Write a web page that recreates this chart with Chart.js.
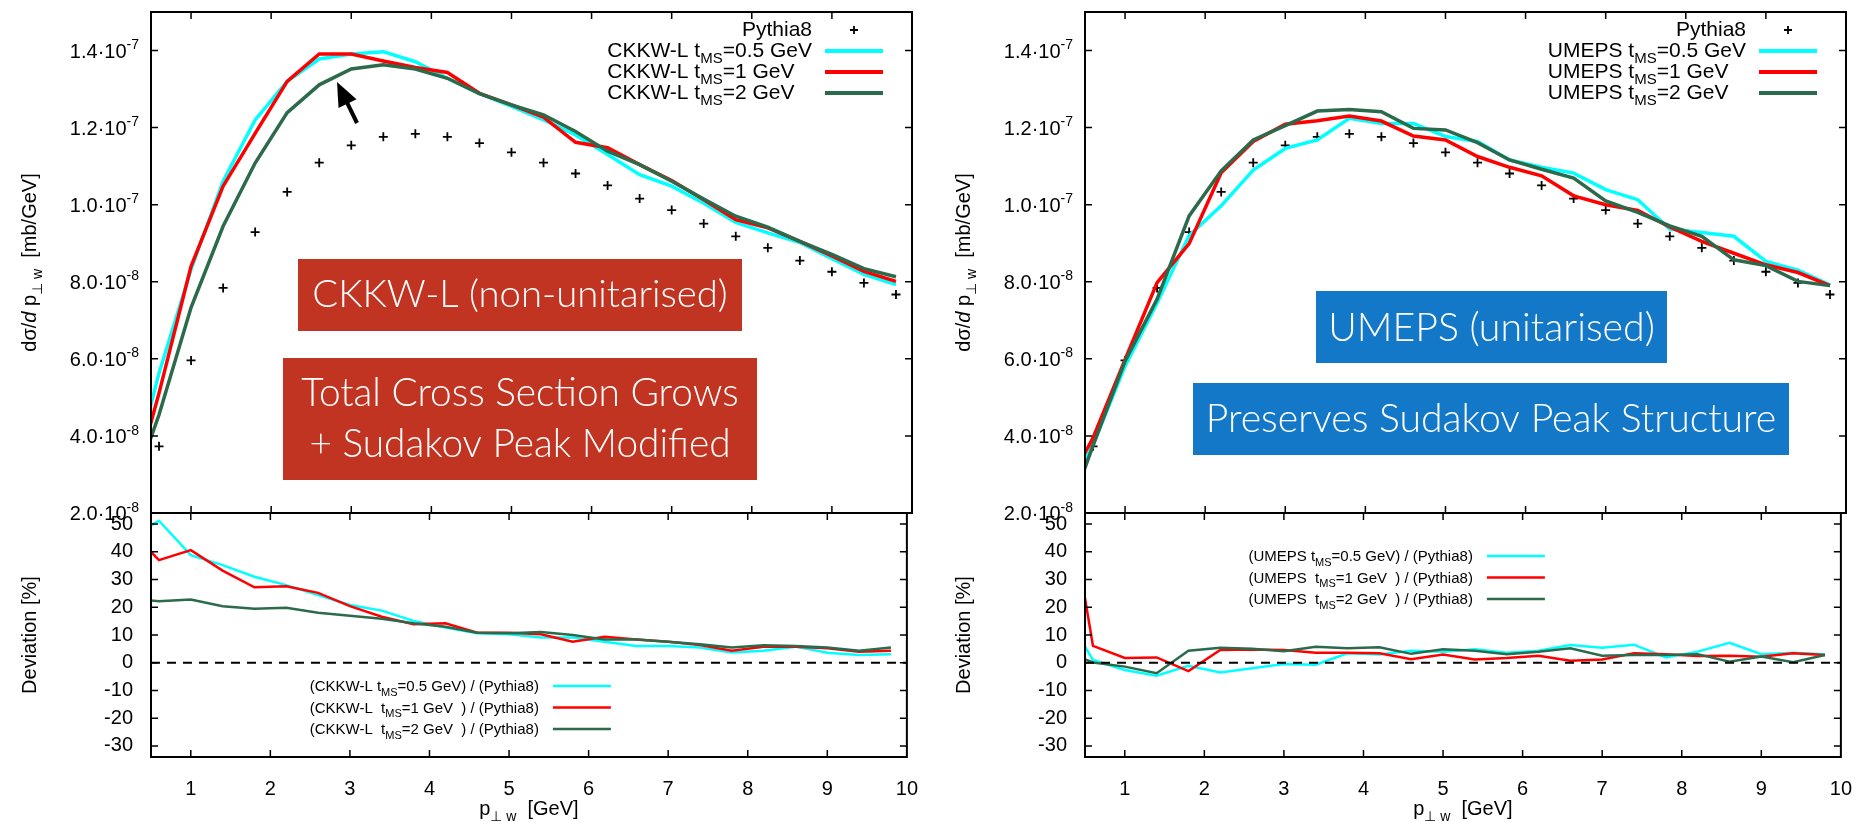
<!DOCTYPE html>
<html>
<head>
<meta charset="utf-8">
<script src="https://cdn.jsdelivr.net/npm/chart.js@4/dist/chart.umd.min.js"></script>
<style>
  body { margin: 0; background: #fff; overflow: hidden; }
  .wrap { position: relative; width: 1855px; height: 822px; overflow: hidden; }
  canvas { position: absolute; }
</style>
</head>
<body>
<div class="wrap">
  <canvas id="ckkwDev" width="930" height="332" style="left:0;top:490px"></canvas>
  <canvas id="ckkwTop" width="930" height="540" style="left:0;top:0"></canvas>
  <canvas id="umepsDev" width="930" height="332" style="left:934px;top:490px"></canvas>
  <canvas id="umepsTop" width="930" height="540" style="left:934px;top:0"></canvas>
</div>
<script>
const FONT = '"Liberation Sans", Arial, Helvetica, sans-serif';
const BOX_FONT = 'Lato, "Open Sans", sans-serif';

// bin centres of p_perp,w [GeV]
const xBins = [0.2, 0.6, 1.0, 1.4, 1.8, 2.2, 2.6, 3.0, 3.4, 3.8, 4.2, 4.6, 5.0,
               5.4, 5.8, 6.2, 6.6, 7.0, 7.4, 7.8, 8.2, 8.6, 9.0, 9.4, 9.8];
const xTicks = [1, 2, 3, 4, 5, 6, 7, 8, 9, 10];
const crossTicks = [2, 4, 6, 8, 10, 12, 14];          // units of 1e-8 mb/GeV
const devTicks = [-30, -20, -10, 0, 10, 20, 30, 40, 50];

// dsigma/dp_perp,w in units of 1e-8 mb/GeV
const pythia8 = [null, 3.73, 5.96, 7.84, 9.29, 10.33, 11.09, 11.54, 11.76, 11.84, 11.76, 11.60, 11.36,
                 11.09, 10.81, 10.50, 10.16, 9.86, 9.51, 9.18, 8.88, 8.55, 8.26, 7.97, 7.67];
const ckkwl05 = [2.39, 5.63, 8.32, 10.61, 12.20, 13.20, 13.78, 13.91, 13.97, 13.71, 13.28, 12.89, 12.55,
                 12.20, 11.81, 11.30, 10.78, 10.48, 10.04, 9.54, 9.27, 9.02, 8.60, 8.19, 7.93];
const ckkwl1 = [2.07, 5.11, 8.40, 10.48, 11.85, 13.20, 13.91, 13.91, 13.73, 13.56, 13.43, 12.89, 12.59,
                12.27, 11.62, 11.48, 11.04, 10.63, 10.13, 9.61, 9.40, 9.05, 8.67, 8.27, 8.01];
const ckkwl2 = [2.19, 4.55, 7.33, 9.44, 11.08, 12.39, 13.11, 13.52, 13.63, 13.52, 13.28, 12.88, 12.59,
                12.33, 11.90, 11.39, 11.04, 10.61, 10.15, 9.70, 9.42, 9.05, 8.71, 8.34, 8.13];
const umeps05 = [2.09, 3.77, 5.81, 7.45, 9.20, 9.97, 10.90, 11.46, 11.68, 12.24, 12.11, 12.11, 11.77,
                 11.64, 11.16, 10.97, 10.82, 10.39, 10.13, 9.37, 9.28, 9.18, 8.53, 8.30, 7.92];
const umeps1 = [2.39, 3.95, 5.98, 7.98, 8.99, 10.83, 11.64, 12.09, 12.18, 12.30, 12.17, 11.78, 11.68,
                11.25, 10.97, 10.75, 10.23, 10.00, 9.85, 9.42, 9.05, 8.74, 8.44, 8.24, 7.90];
const umeps2 = [1.43, 3.75, 5.94, 7.55, 9.71, 10.88, 11.68, 12.05, 12.43, 12.47, 12.41, 11.98, 11.94,
                11.61, 11.16, 10.92, 10.69, 10.10, 9.80, 9.45, 9.18, 8.57, 8.42, 8.01, 7.90];

// deviation from Pythia8 [%]
const devCkkwl05 = [44.8, 51.2, 38.8, 35.2, 31.0, 28.0, 24.4, 20.8, 18.8, 15.1, 12.7, 10.6, 10.3,
                    9.1, 9.1, 7.6, 6.0, 6.0, 5.5, 3.7, 4.3, 5.8, 3.6, 2.8, 3.1];
const devCkkwl1 = [49.0, 37.0, 40.6, 33.2, 27.2, 27.6, 25.2, 20.4, 16.6, 13.9, 14.2, 10.8, 10.8,
                   10.3, 7.6, 9.4, 8.4, 7.6, 6.4, 4.3, 5.8, 5.8, 5.2, 4.0, 4.3];
const devCkkwl2 = [23.0, 22.2, 22.8, 20.4, 19.5, 19.8, 18.0, 16.9, 15.9, 14.2, 13.0, 10.8, 10.6,
                   11.1, 10.0, 8.4, 8.4, 7.6, 6.7, 5.5, 6.3, 6.0, 5.5, 4.3, 5.5];
const devUmeps05 = [20.2, 1.0, -2.6, -4.7, -1.1, -3.5, -2.0, -0.5, -0.7, 3.4, 3.0, 4.3, 4.0,
                    4.9, 3.6, 4.3, 6.4, 5.4, 6.5, 1.9, 4.0, 7.2, 3.1, 3.6, 3.1];
const devUmeps1 = [74.5, 6.1, 1.7, 1.9, -3.0, 4.6, 4.8, 4.6, 3.6, 3.6, 3.4, 1.3, 3.0,
                   1.2, 1.7, 2.5, 0.7, 1.2, 3.4, 3.1, 2.4, 2.5, 2.2, 3.4, 2.8];
const devUmeps2 = [4.5, 0.1, -1.4, -3.8, 4.3, 5.4, 5.0, 4.1, 5.8, 5.2, 5.6, 3.2, 4.9,
                   4.3, 3.1, 4.0, 5.2, 2.5, 2.8, 2.8, 3.1, 0.4, 2.2, 0.2, 2.8];

const CYAN = '#00ffff';
const RED = '#ff0000';
const GREEN = '#2b6a4b';

// ---- text helpers (sub/superscripts like gnuplot enhanced text) ----
function partFont(kind, size) {
  const s = (kind === 'sub' || kind === 'sup') ? Math.round(size * 0.72) : size;
  return (kind === 'it' ? 'italic ' : '') + s + 'px ' + FONT;
}
function richWidth(ctx, parts, size) {
  let w = 0;
  parts.forEach(([t, k]) => { ctx.font = partFont(k, size); w += ctx.measureText(t).width; });
  return w;
}
function drawRich(ctx, parts, x, y, size, align) {
  const w = richWidth(ctx, parts, size);
  let cx = align === 'right' ? x - w : align === 'center' ? x - w / 2 : x;
  ctx.textAlign = 'left';
  ctx.textBaseline = 'alphabetic';
  parts.forEach(([t, k]) => {
    ctx.font = partFont(k, size);
    const dy = k === 'sub' ? size * 0.3 : k === 'sup' ? -size * 0.42 : 0;
    ctx.fillText(t, cx, y + dy);
    cx += ctx.measureText(t).width;
  });
}
function drawPlus(ctx, x, y, r) {
  ctx.beginPath();
  ctx.moveTo(x - r, y); ctx.lineTo(x + r, y);
  ctx.moveTo(x, y - r); ctx.lineTo(x, y + r);
  ctx.stroke();
}

const yTitleTop = [['d'], ['\u03c3/'], ['d', 'it'], [' p'], ['\u22a5 w', 'sub'], ['  [mb/GeV]']];
const yTitleDev = [['Deviation [%]']];
const xTitle = [['p'], ['\u22a5 w', 'sub'], ['  [GeV]']];

// ---- annotation plugin: frame, inward ticks, legend, labels, boxes ----
function framePlugin(cfg) {
  return {
    id: 'frame',
    afterDatasetsDraw(chart) {
      const ctx = chart.ctx, a = chart.chartArea;
      const xs = chart.scales.x, ys = chart.scales.y;
      ctx.save();
      ctx.fillStyle = '#000';
      ctx.strokeStyle = '#000';

      if (cfg.zeroLine) {
        const y0 = ys.getPixelForValue(0);
        ctx.lineWidth = 2;
        ctx.setLineDash([9, 7]);
        ctx.beginPath(); ctx.moveTo(a.left, y0); ctx.lineTo(a.right, y0); ctx.stroke();
        ctx.setLineDash([]);
      }

      // border and inward ticks on all four sides
      ctx.lineWidth = 2;
      ctx.strokeRect(a.left, a.top, a.right - a.left, a.bottom - a.top);
      ctx.lineWidth = 1.5;
      ctx.beginPath();
      xTicks.forEach(v => {
        const p = xs.getPixelForValue(v);
        if (p > a.right - 2) return;
        ctx.moveTo(p, a.bottom); ctx.lineTo(p, a.bottom - 7);
        ctx.moveTo(p, a.top); ctx.lineTo(p, a.top + 7);
      });
      cfg.yTicks.forEach(v => {
        const p = ys.getPixelForValue(v);
        ctx.moveTo(a.left, p); ctx.lineTo(a.left + 7, p);
        ctx.moveTo(a.right, p); ctx.lineTo(a.right - 7, p);
      });
      ctx.stroke();

      // y tick labels of the cross-section panel, as m.m·10^e
      if (cfg.sciLabels) {
        cfg.yTicks.forEach(v => {
          const val = v * 1e-8;
          const e = Math.floor(Math.log10(val) + 1e-9);
          const m = (val / Math.pow(10, e)).toFixed(1);
          drawRich(ctx, [[m + '\u00b710'], ['' + e, 'sup']], a.left - 12, ys.getPixelForValue(v) + 7, 20, 'right');
        });
      }

      // axis titles
      ctx.save();
      ctx.translate(29, (a.top + a.bottom) / 2);
      ctx.rotate(-Math.PI / 2);
      drawRich(ctx, cfg.yTitle, 0, 7, 20, 'center');
      ctx.restore();
      if (cfg.xTitle) drawRich(ctx, cfg.xTitle, (a.left + a.right) / 2, a.bottom + 58, 20, 'center');

      // key
      const L = cfg.legend;
      L.entries.forEach((en, i) => {
        const y = a.top + L.top + i * L.step;
        ctx.fillStyle = '#000';
        drawRich(ctx, en.parts, a.right - L.textInset, y + L.base, L.size, 'right');
        if (en.marker) {
          ctx.strokeStyle = '#000'; ctx.lineWidth = 1.8;
          drawPlus(ctx, a.right - (L.lineFrom + L.lineTo) / 2, y, 4);
        } else {
          ctx.strokeStyle = en.color; ctx.lineWidth = L.width;
          ctx.beginPath(); ctx.moveTo(a.right - L.lineFrom, y); ctx.lineTo(a.right - L.lineTo, y); ctx.stroke();
        }
      });

      // coloured slide boxes
      (cfg.boxes || []).forEach(b => {
        ctx.fillStyle = b.color;
        ctx.fillRect(a.left + b.x0, a.top + b.y0, b.x1 - b.x0, b.y1 - b.y0);
        ctx.fillStyle = '#fff';
        ctx.textAlign = 'center';
        ctx.textBaseline = 'middle';
        let size = 38;
        b.lines.forEach((txt, i) => {
          if (i === 0 || b.fitEach) {
            ctx.font = '300 40px ' + BOX_FONT;
            size = 40 * b.textWidth[i] / ctx.measureText(txt).width;
          }
          ctx.font = '300 ' + size.toFixed(1) + 'px ' + BOX_FONT;
          ctx.fillText(txt, a.left + (b.x0 + b.x1) / 2, a.top + b.ty[i]);
        });
      });

      if (cfg.arrow) {
        const [tx, ty, hx, hy] = cfg.arrow;
        const x1 = a.left + tx, y1 = a.top + ty, x2 = a.left + hx, y2 = a.top + hy;
        const ang = Math.atan2(y2 - y1, x2 - x1);
        ctx.strokeStyle = '#000'; ctx.fillStyle = '#000'; ctx.lineWidth = 4;
        ctx.beginPath();
        ctx.moveTo(x1, y1);
        ctx.lineTo(x2 - 18 * Math.cos(ang), y2 - 18 * Math.sin(ang));
        ctx.stroke();
        ctx.beginPath();
        ctx.moveTo(x2, y2);
        ctx.lineTo(x2 - 24 * Math.cos(ang) + 10 * Math.sin(ang), y2 - 24 * Math.sin(ang) - 10 * Math.cos(ang));
        ctx.lineTo(x2 - 24 * Math.cos(ang) - 10 * Math.sin(ang), y2 - 24 * Math.sin(ang) + 10 * Math.cos(ang));
        ctx.closePath();
        ctx.fill();
      }
      ctx.restore();
    }
  };
}

// ---- chart building ----
function xy(ys) {
  return xBins.map((x, i) => ({ x: x, y: ys[i] }));
}
function lineSet(ys, color, width, order) {
  return { type: 'line', data: xy(ys), borderColor: color, backgroundColor: color,
           borderWidth: width, pointRadius: 0, tension: 0, order: order };
}
function scales(yMin, yMax, yTicks, lower) {
  return {
    x: {
      type: 'linear', min: 0.5, max: 10,
      afterBuildTicks: s => { s.ticks = xTicks.map(v => ({ value: v })); },
      afterFit: s => { s.height = lower ? 65 : 0; },
      grid: { display: false }, border: { display: false },
      ticks: { display: lower, autoSkip: false, maxRotation: 0, padding: 12,
               color: '#000', font: { family: FONT, size: 20 } }
    },
    y: {
      type: 'linear', min: yMin, max: yMax,
      afterBuildTicks: s => { s.ticks = yTicks.map(v => ({ value: v })); },
      afterFit: s => { s.width = 151; },
      grid: { display: false }, border: { display: false },
      ticks: { display: lower, padding: 10, color: '#000', font: { family: FONT, size: 20 } }
    }
  };
}
function baseOptions(pad, sc) {
  return {
    responsive: false,
    animation: false,
    events: [],
    layout: { padding: pad },
    plugins: { legend: { display: false }, tooltip: { enabled: false } },
    scales: sc
  };
}

function topChart(id, name, series, boxes, arrow) {
  const [s05, s1, s2] = series;
  new Chart(document.getElementById(id), {
    type: 'line',
    data: {
      datasets: [
        { type: 'scatter', data: xy(pythia8), showLine: false, pointStyle: 'cross', pointRadius: 4.5,
          borderColor: '#000', borderWidth: 1.8, order: 3 },
        lineSet(s05, CYAN, 3.5, 2),
        lineSet(s1, RED, 3.5, 1),
        lineSet(s2, GREEN, 3.5, 0)
      ]
    },
    options: baseOptions({ top: 12, right: 18, bottom: 27, left: 0 }, scales(2, 15, crossTicks, false)),
    plugins: [framePlugin({
      yTicks: crossTicks, sciLabels: true, yTitle: yTitleTop, boxes: boxes, arrow: arrow,
      legend: {
        top: 18, step: 21, size: 21, base: 6, textInset: 100, lineFrom: 87, lineTo: 29, width: 4,
        entries: [
          { parts: [['Pythia8']], marker: true },
          { parts: [[name + ' t'], ['MS', 'sub'], ['=0.5 GeV']], color: CYAN },
          { parts: [[name + ' t'], ['MS', 'sub'], ['=1 GeV   ']], color: RED },
          { parts: [[name + ' t'], ['MS', 'sub'], ['=2 GeV   ']], color: GREEN }
        ]
      }
    })]
  });
}

function devChart(id, name, series, legendTop) {
  const [d05, d1, d2] = series;
  new Chart(document.getElementById(id), {
    type: 'line',
    data: {
      datasets: [
        lineSet(d05, CYAN, 2.5, 2),
        lineSet(d1, RED, 2.5, 1),
        lineSet(d2, GREEN, 2.5, 0)
      ]
    },
    options: baseOptions({ top: 23, right: 18, bottom: 0, left: 0 }, scales(-34, 54, devTicks, true)),
    plugins: [framePlugin({
      yTicks: devTicks, zeroLine: true, yTitle: yTitleDev, xTitle: xTitle,
      legend: {
        top: legendTop, step: 21.5, size: 15, base: 5, textInset: 368, lineFrom: 354, lineTo: 296, width: 2.5,
        entries: [
          { parts: [['(' + name + ' t'], ['MS', 'sub'], ['=0.5 GeV) / (Pythia8)']], color: CYAN },
          { parts: [['(' + name + '  t'], ['MS', 'sub'], ['=1 GeV  ) / (Pythia8)']], color: RED },
          { parts: [['(' + name + '  t'], ['MS', 'sub'], ['=2 GeV  ) / (Pythia8)']], color: GREEN }
        ]
      }
    })]
  });
}

const ckkwBoxes = [
  { color: '#c03421', x0: 147, y0: 247, x1: 591, y1: 319, lines: ['CKKW-L (non-unitarised)'],
    ty: [283], textWidth: [416], fitEach: true },
  { color: '#c03421', x0: 132, y0: 346, x1: 606, y1: 468,
    lines: ['Total Cross Section Grows', '+ Sudakov Peak Modified'],
    ty: [381, 432], textWidth: [437] }
];
const umepsBoxes = [
  { color: '#1478c8', x0: 231, y0: 279, x1: 582, y1: 351, lines: ['UMEPS (unitarised)'],
    ty: [316], textWidth: [327] },
  { color: '#1478c8', x0: 108, y0: 371, x1: 704, y1: 443, lines: ['Preserves Sudakov Peak Structure'],
    ty: [407], textWidth: [571] }
];

devChart('ckkwDev', 'CKKW-L', [devCkkwl05, devCkkwl1, devCkkwl2], 173);
devChart('umepsDev', 'UMEPS', [devUmeps05, devUmeps1, devUmeps2], 43);
topChart('ckkwTop', 'CKKW-L', [ckkwl05, ckkwl1, ckkwl2], ckkwBoxes, [206, 111, 186, 70]);
topChart('umepsTop', 'UMEPS', [umeps05, umeps1, umeps2], umepsBoxes, null);
</script>
</body>
</html>
